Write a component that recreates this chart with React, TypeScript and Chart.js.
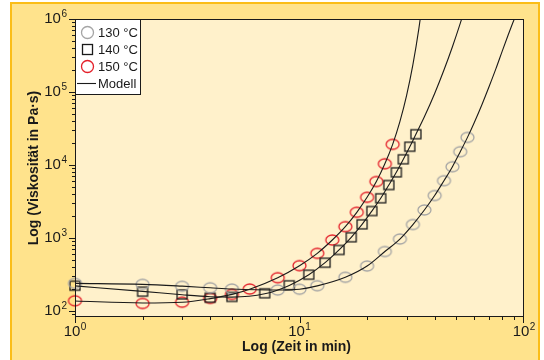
import React, { useEffect, useRef } from 'react';
import { Chart, registerables } from 'chart.js';

Chart.register(...registerables);

// Measured data (time in min, viscosity in Pa·s)
const T130 = [1, 2, 3, 4, 5, 8, 10, 12, 16, 20, 24, 28, 32, 36, 40, 44, 48, 52, 56];
const V130 = [239, 232, 218, 208, 200, 194, 199, 222, 290, 413, 653, 968, 1530, 2420, 3820, 6090, 9480, 15200, 23900];

const T140 = [1, 2, 3, 4, 5, 7, 9, 11, 13, 15, 17, 19, 21, 23, 25, 27, 29, 31, 33];
const V140 = [222, 184, 169, 152, 156, 175, 225, 314, 459, 686, 1024, 1540, 2340, 3500, 5320, 7940, 11970, 17800, 26400];

const T150 = [1, 2, 3, 4, 5, 6, 8, 10, 12, 14, 16, 18, 20, 22, 24, 26];
const V150 = [138, 127, 132, 149, 169, 200, 286, 418, 617, 939, 1430, 2250, 3610, 5940, 10400, 19200];

// Model curves
const M130_T = [1, 2, 3, 4, 5, 8, 10, 12, 16, 20, 24, 28, 32, 36, 40, 44, 48, 52, 56, 60, 65, 70, 75, 80, 85, 90, 95];
const M130_V = [239, 232, 219, 208, 200, 194, 199, 221, 290, 413, 653, 968, 1530, 2420, 3820, 6090, 9480, 15200, 23900, 38000, 67600, 120000, 209000, 363000, 603000, 955000, 1410000];

const M140_T = [1, 2, 3, 4, 5, 7, 9, 11, 13, 15, 17, 19, 21, 23, 25, 27, 29, 31, 33, 36, 40, 44, 48, 52, 56];
const M140_V = [221, 186, 167, 157, 155, 172, 224, 314, 459, 686, 1024, 1540, 2340, 3500, 5320, 7940, 11970, 17800, 26400, 45700, 95500, 200000, 417000, 871000, 1820000];

const M150_T = [1, 2, 3, 4, 5, 6, 8, 10, 12, 14, 16, 18, 20, 22, 24, 26, 28, 30, 32, 34, 36];
const M150_V = [137, 129, 132, 148, 169, 199, 286, 418, 617, 939, 1430, 2250, 3610, 5940, 10400, 19200, 39300, 89900, 237000, 731000, 2720000];

// Axes
const X_MIN = 1;
const X_MAX = 100;
const Y_MIN = 82.8;
const Y_MAX = 1000000;
const X_MAJOR = [1, 10, 100];
const X_MAJOR_EXP = ['0', '1', '2'];
const Y_MAJOR = [100, 1000, 10000, 100000, 1000000];
const Y_MAJOR_EXP = ['2', '3', '4', '5', '6'];

const LEGEND_LABELS = ['130 °C', '140 °C', '150 °C', 'Modell'];
const X_TITLE = 'Log (Zeit in min)';
const Y_TITLE = 'Log (Viskosität in Pa·s)';

const FONT = '"Liberation Sans Narrow", "Liberation Sans", Arial, sans-serif';
const TITLE_FONT = '"Liberation Sans", Arial, sans-serif';
const GRAY = '#a5a5a5';
const RED = '#e4202a';
const INK = '#1a1a1a';

function ellipseCanvas(color: string, w: number, h: number, lw: number) {
  const c = document.createElement('canvas');
  c.width = w + 4;
  c.height = h + 4;
  const g = c.getContext('2d')!;
  g.strokeStyle = color;
  g.lineWidth = lw;
  g.beginPath();
  g.ellipse(c.width / 2, c.height / 2, w / 2, h / 2, 0, 0, Math.PI * 2);
  g.stroke();
  return c;
}

function squareCanvas(color: string, w: number, h: number, lw: number) {
  const c = document.createElement('canvas');
  c.width = w + 4;
  c.height = h + 4;
  const g = c.getContext('2d')!;
  g.strokeStyle = color;
  g.lineWidth = lw;
  g.strokeRect(2, 2, w, h);
  return c;
}

function pts(t: number[], v: number[]) {
  return t.map((x, i) => ({ x, y: v[i] }));
}

function drawPow(ctx: CanvasRenderingContext2D, exp: string, x: number, y: number, align: 'center' | 'right') {
  ctx.font = `15px ${FONT}`;
  const wb = ctx.measureText('10').width;
  ctx.font = `10px ${FONT}`;
  const we = ctx.measureText(exp).width;
  const total = wb + we + 0.5;
  let sx = align === 'center' ? x - total / 2 : x - total;
  ctx.textAlign = 'left';
  ctx.textBaseline = 'middle';
  ctx.font = `15px ${FONT}`;
  ctx.fillText('10', sx, y);
  ctx.font = `10px ${FONT}`;
  ctx.fillText(exp, sx + wb + 0.5, y - 5);
}

const decorPlugin = {
  id: 'decor',
  beforeDraw(chart: any) {
    const ctx = chart.ctx as CanvasRenderingContext2D;
    const { left, right, top, bottom } = chart.chartArea;
    ctx.save();
    ctx.fillStyle = '#ffffff';
    ctx.fillRect(0, 0, chart.width, chart.height);
    ctx.fillStyle = '#ffe38c';
    ctx.fillRect(11, 3, 528, 360);
    ctx.strokeStyle = '#fbbd17';
    ctx.lineWidth = 2;
    ctx.strokeRect(11, 3, 528, 362);
    ctx.fillStyle = '#fff1cb';
    ctx.fillRect(left, top, right - left, bottom - top);
    ctx.restore();
  },
  afterDraw(chart: any) {
    const ctx = chart.ctx as CanvasRenderingContext2D;
    const { left, right, top, bottom } = chart.chartArea;
    const xs = chart.scales.x;
    const ys = chart.scales.y;
    ctx.save();
    // plot frame
    ctx.strokeStyle = INK;
    ctx.lineWidth = 1;
    ctx.strokeRect(left + 0.5, top + 0.5, right - left - 1, bottom - top - 1);

    // x ticks
    ctx.beginPath();
    for (let d = 0; d < 2; d++) {
      for (let k = 1; k <= 9; k++) {
        const v = k * Math.pow(10, d);
        const px = Math.round(xs.getPixelForValue(v)) + 0.5;
        const len = k === 1 ? 6 : 3;
        ctx.moveTo(px, bottom);
        ctx.lineTo(px, bottom + len);
      }
    }
    const pxLast = Math.round(xs.getPixelForValue(100)) - 0.5;
    ctx.moveTo(pxLast, bottom);
    ctx.lineTo(pxLast, bottom + 6);
    // y ticks
    for (let d = 1; d < 6; d++) {
      for (let k = 1; k <= 9; k++) {
        const v = k * Math.pow(10, d);
        if (v < Y_MIN) continue;
        const py = Math.round(ys.getPixelForValue(v)) + 0.5;
        const len = k === 1 ? 6 : 3;
        ctx.moveTo(left - len, py);
        ctx.lineTo(left, py);
      }
    }
    const pyTop = Math.round(ys.getPixelForValue(Y_MAX)) + 0.5;
    ctx.moveTo(left - 6, pyTop);
    ctx.lineTo(left, pyTop);
    ctx.stroke();

    // tick labels
    ctx.fillStyle = INK;
    X_MAJOR.forEach((v, i) => {
      drawPow(ctx, X_MAJOR_EXP[i], xs.getPixelForValue(v), bottom + 15, 'center');
    });
    Y_MAJOR.forEach((v, i) => {
      drawPow(ctx, Y_MAJOR_EXP[i], left - 8, ys.getPixelForValue(v), 'right');
    });

    // axis titles
    ctx.font = `bold 14px ${TITLE_FONT}`;
    ctx.textAlign = 'center';
    ctx.textBaseline = 'middle';
    ctx.fillText(X_TITLE, (left + right) / 2 - 3, bottom + 30);
    ctx.save();
    ctx.translate(34, (top + bottom) / 2);
    ctx.rotate(-Math.PI / 2);
    ctx.fillText(Y_TITLE, 0, 0);
    ctx.restore();

    // legend
    const lx = left;
    const ly = top;
    const lw = 65;
    const lh = 75;
    ctx.fillStyle = '#ffffff';
    ctx.fillRect(lx, ly, lw, lh);
    ctx.strokeStyle = INK;
    ctx.lineWidth = 1;
    ctx.strokeRect(lx + 0.5, ly + 0.5, lw, lh);
    const rows = [13.5, 30.5, 47.5, 64.5];
    const mx = lx + 12.5;
    ctx.lineWidth = 1.3;
    ctx.strokeStyle = GRAY;
    ctx.beginPath();
    ctx.arc(mx, ly + rows[0], 6, 0, Math.PI * 2);
    ctx.stroke();
    ctx.strokeStyle = INK;
    ctx.strokeRect(mx - 5, ly + rows[1] - 5, 10, 10);
    ctx.strokeStyle = RED;
    ctx.beginPath();
    ctx.arc(mx, ly + rows[2], 6, 0, Math.PI * 2);
    ctx.stroke();
    ctx.strokeStyle = INK;
    ctx.lineWidth = 1.1;
    ctx.beginPath();
    ctx.moveTo(lx + 2, ly + rows[3]);
    ctx.lineTo(lx + 21, ly + rows[3]);
    ctx.stroke();
    ctx.fillStyle = INK;
    ctx.font = `13px ${FONT}`;
    ctx.textAlign = 'left';
    ctx.textBaseline = 'middle';
    LEGEND_LABELS.forEach((s, i) => {
      ctx.fillText(s, lx + 23, ly + rows[i] + 0.5);
    });
    ctx.restore();
  },
};

export default function App() {
  const ref = useRef<HTMLCanvasElement | null>(null);
  useEffect(() => {
    const canvas = ref.current;
    if (!canvas) return;
    const gray = ellipseCanvas(GRAY, 13, 10, 1.3);
    const red = ellipseCanvas(RED, 13, 10, 1.3);
    const sq = squareCanvas(INK, 10, 9, 1.3);
    const modelStyle = {
      showLine: true,
      pointRadius: 0,
      borderColor: INK,
      borderWidth: 1.1,
      cubicInterpolationMode: 'monotone' as const,
      fill: false,
    };
    const markStyle = { showLine: false, pointRadius: 6, clip: false as any };
    const chart = new Chart(canvas, {
      type: 'line',
      data: {
        datasets: [
          { label: 'Modell 130', data: pts(M130_T, M130_V), ...modelStyle },
          { label: 'Modell 140', data: pts(M140_T, M140_V), ...modelStyle },
          { label: 'Modell 150', data: pts(M150_T, M150_V), ...modelStyle },
          { label: '130 °C', data: pts(T130, V130), pointStyle: gray, ...markStyle },
          { label: '140 °C', data: pts(T140, V140), pointStyle: sq, ...markStyle },
          { label: '150 °C', data: pts(T150, V150), pointStyle: red, ...markStyle },
        ] as any,
      },
      options: {
        animation: false,
        responsive: false,
        devicePixelRatio: 1,
        layout: { padding: { left: 75, top: 19, right: 20, bottom: 43 } },
        parsing: false as any,
        scales: {
          x: { type: 'logarithmic', min: X_MIN, max: X_MAX, display: false, bounds: 'data' },
          y: { type: 'logarithmic', min: Y_MIN, max: Y_MAX, display: false, bounds: 'data' },
        },
        plugins: {
          legend: { display: false },
          tooltip: { enabled: false },
        },
      },
      plugins: [decorPlugin],
    });
    return () => chart.destroy();
  }, []);
  return (
    <div style={{ position: 'absolute', left: 0, top: 0, width: 544, height: 360 }}>
      <canvas ref={ref} width={544} height={360} style={{ display: 'block', width: 544, height: 360 }} />
    </div>
  );
}
